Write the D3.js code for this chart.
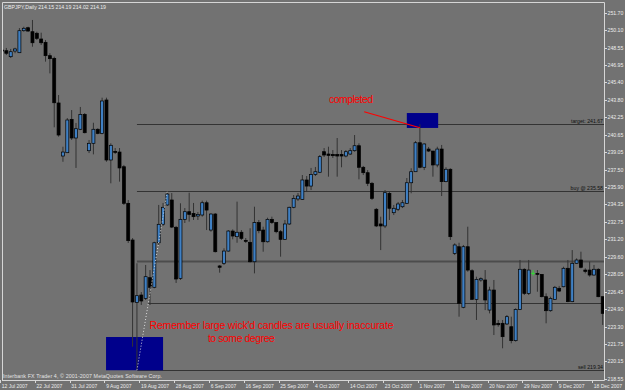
<!DOCTYPE html>
<html>
<head>
<meta charset="utf-8">
<script src="https://d3js.org/d3.v7.min.js"></script>
<style>
  body { margin: 0; background: #727272; }
  svg text { font-family: "Liberation Sans", Arial, sans-serif; }
</style>
</head>
<body>
<div id="chart"></div>
<script>
var figw = 625
var figh = 390

// GBPJPY daily candles, one per trading day from 12 Jul 2007
var barOpen = [248.32,248.26,247.72,248.23,248.08,250.07,250.34,249.98,249.84,249.32,
  249.02,247.81,247.57,243.53,238.73,239.03,242.05,240.36,241.15,242.50,
  239.21,239.88,241.15,240.78,243.80,238.37,239.15,239.09,237.76,234.45,
  231.13,225.48,226.15,225.85,227.72,226.85,230.88,232.55,234.30,234.75,
  232.28,227.66,233.00,233.69,233.54,233.30,233.39,234.50,232.03,233.48,
  228.78,229.02,230.13,231.94,231.43,231.83,231.10,230.92,229.16,232.70,
  232.03,230.97,233.00,232.70,231.88,231.19,232.58,234.09,234.84,234.81,
  236.56,236.01,237.07,237.26,239.12,238.91,238.88,238.88,238.88,238.73,
  238.91,239.21,239.66,237.71,237.22,236.26,233.91,232.58,232.40,235.35,
  233.60,233.91,234.14,234.45,236.31,237.31,239.93,237.71,239.36,239.18,
  237.92,239.36,236.41,237.53,229.92,230.52,225.04,230.52,228.35,225.76,
  227.51,227.51,224.79,226.60,223.59,223.59,223.53,223.28,222.02,224.84,
  228.48,226.30,228.11,228.11,228.02,226.00,224.73,225.76,226.76,226.90,
  228.57,225.55,229.02,229.32,228.41,228.41,227.96,228.48,226.00]
var barHigh = [248.69,248.51,248.42,248.53,250.31,250.43,250.43,251.04,249.98,249.89,
  249.23,248.03,247.72,244.25,239.57,242.17,242.89,241.72,243.17,242.62,
  240.18,241.74,241.24,244.01,244.01,239.88,239.45,239.45,237.92,234.75,
  231.31,229.02,226.42,228.87,228.41,230.97,234.30,234.48,235.47,235.38,
  232.40,234.45,234.02,235.41,234.48,233.66,234.69,234.69,233.55,233.57,
  228.87,230.38,232.03,232.09,234.60,232.03,231.31,232.19,234.14,232.94,
  232.33,233.15,233.24,232.75,232.03,232.94,234.14,235.20,235.38,237.01,
  236.92,237.65,237.74,238.82,239.45,239.57,239.27,240.36,239.27,239.27,
  239.45,240.63,239.88,237.83,237.46,236.38,234.02,233.24,235.65,235.50,
  234.30,234.57,234.75,236.74,237.62,240.09,241.60,239.88,239.55,239.18,
  239.57,239.73,237.71,237.62,230.83,230.88,230.68,232.33,228.48,227.81,
  227.75,228.41,226.90,227.51,223.89,223.89,224.34,224.19,224.95,229.32,
  228.57,229.32,228.41,228.41,228.05,226.30,226.00,226.97,226.97,228.71,
  229.32,230.22,229.47,230.07,228.57,229.17,228.87,228.57,226.00]
var barLow = [247.69,247.87,247.60,248.03,248.05,249.98,249.98,248.62,249.23,248.78,
  247.27,246.21,241.33,240.48,238.21,239.00,240.18,237.65,241.08,240.78,
  239.00,238.88,240.70,240.70,238.21,236.26,238.91,236.41,234.30,230.86,
  221.47,219.34,225.25,225.70,225.25,226.76,230.68,232.40,234.21,232.21,
  227.24,227.51,232.67,232.79,232.94,232.94,233.24,232.03,231.88,230.00,
  228.17,228.87,230.07,231.19,230.88,231.13,230.86,229.10,228.11,231.74,
  230.07,230.90,232.58,231.74,229.62,231.13,232.49,234.00,234.66,234.75,
  235.47,235.65,236.92,237.19,238.64,236.86,238.55,236.86,237.71,238.61,
  238.82,239.12,236.62,237.01,236.01,234.75,232.30,230.22,232.21,232.94,
  233.39,233.75,234.02,234.39,235.36,237.31,237.62,237.46,239.09,236.86,
  237.71,235.11,236.35,231.13,229.77,224.19,224.95,228.26,225.70,223.89,
  227.35,224.79,224.49,222.53,223.28,221.33,223.44,221.78,221.93,224.79,
  226.15,226.15,227.90,226.45,225.94,223.59,224.64,225.70,226.42,226.85,
  225.50,225.50,228.96,228.57,228.11,227.81,227.90,225.95,223.44]
var barClose = [248.23,248.03,248.17,248.42,250.07,250.29,250.04,248.98,249.38,248.98,
  247.81,247.54,243.55,240.63,239.09,241.99,240.36,241.20,242.50,240.84,
  239.88,241.15,240.78,243.71,238.37,239.70,239.10,237.65,234.45,231.07,
  225.52,226.09,225.61,227.81,226.85,230.88,232.55,234.09,235.29,232.30,
  227.60,233.00,233.69,233.45,233.24,233.45,234.50,233.84,233.48,230.07,
  228.66,230.13,231.94,231.49,231.83,231.28,231.05,229.16,232.70,231.97,
  230.97,233.00,232.70,231.88,231.19,232.58,234.09,234.90,235.11,236.56,
  236.01,237.07,237.31,238.67,238.82,238.79,238.76,238.73,238.73,239.12,
  239.21,239.66,237.71,237.22,236.26,234.90,232.40,232.40,235.41,234.00,
  234.00,234.39,234.50,236.31,237.31,239.93,237.71,239.82,239.18,237.92,
  239.36,236.41,237.53,231.43,230.68,225.40,230.52,228.41,225.76,227.57,
  227.63,225.70,226.60,223.44,223.46,222.38,224.19,222.02,224.84,228.48,
  226.30,228.41,228.11,228.02,226.00,224.73,225.85,226.85,226.51,228.57,
  225.55,229.02,229.32,228.66,228.29,227.96,228.48,226.00,224.49]

// date labels, one every 8 bars
var dateLabels = ["12 Jul 2007","22 Jul 2007","31 Jul 2007","9 Aug 2007","19 Aug 2007",
  "28 Aug 2007","6 Sep 2007","16 Sep 2007","25 Sep 2007","4 Oct 2007","14 Oct 2007",
  "23 Oct 2007","1 Nov 2007","11 Nov 2007","20 Nov 2007","29 Nov 2007","9 Dec 2007","18 Dec 2007"]
var dateStep = 8

var priceTicks = ["251.70","250.10","248.55","246.95","245.40","243.80","242.25","240.65",
  "239.05","237.50","235.90","234.35","232.75","231.20","229.60","228.05","226.45",
  "224.90","223.30","221.75","220.15","218.55"]

// horizontal levels drawn on the chart
var levelPrice = [241.67, 235.58, 229.26, 225.40, 219.34]
var levelText = ["target: 241.67", "buy @ 235.58", "", "", "sell  219.34"]
var levelFromBar = [31, 31, 31, 33.6, 31]

// blue boxes: [bar from, bar to, price top, price bottom]
var boxBarFrom = [23.9, 93.0]
var boxBarTo = [37.0, 100.2]
var boxTop = [222.35, 242.62]
var boxBottom = [219.34, 241.27]

var title = "GBPJPY,Daily  214.15 214.19 214.02 214.19"
var copyright = "Interbank FX Trader 4, \u00a9 2001-2007 MetaQuotes Software Corp."

var plot = {left: 2, top: 2, right: 604, bottom: 380}

var svg = d3.select("#chart")
  .append("svg")
    .attr("width", figw)
    .attr("height", figh)

svg.append("rect")
  .attr("width", figw).attr("height", figh)
  .attr("fill", "#727272")

svg.append("clipPath").attr("id", "clip")
  .append("rect")
    .attr("x", plot.left).attr("y", plot.top)
    .attr("width", plot.right - plot.left).attr("height", plot.bottom - plot.top)

var x = d3.scaleLinear()
  .domain([0, 138])
  .range([2, 602.7])

var y = d3.scaleLinear()
  .domain([218.55, 251.70])
  .range([379, 12.7])

var g = svg.append("g").attr("clip-path", "url(#clip)")

// level lines
levelPrice.forEach(function(p, k) {
  var thick = (levelText[k] === "" && k == 2)
  g.append("line")
    .attr("x1", x(levelFromBar[k])).attr("x2", plot.right)
    .attr("y1", Math.round(y(p)) + 0.5).attr("y2", Math.round(y(p)) + 0.5)
    .attr("stroke", thick ? "#4c4c4c" : "#333")
    .attr("stroke-width", thick ? 2 : 1)
  if (levelText[k] !== "") {
    g.append("text")
      .attr("x", plot.right - 1)
      .attr("y", Math.round(y(p)) - 1)
      .attr("text-anchor", "end")
      .attr("font-size", "5.2px")
      .attr("fill", "#111")
      .text(levelText[k])
  }
})

// blue boxes
boxBarFrom.forEach(function(b, k) {
  g.append("rect")
    .attr("x", x(b)).attr("width", x(boxBarTo[k]) - x(b))
    .attr("y", y(boxTop[k])).attr("height", y(boxBottom[k]) - y(boxTop[k]))
    .attr("fill", "#00008b")
})

var bars = barOpen.map(function(o, i) {
  return {i: i, o: o, h: barHigh[i], l: barLow[i], c: barClose[i]}
})

// wicks
g.append("g")
  .selectAll("line")
  .data(bars)
  .enter()
  .append("line")
    .attr("x1", function(d) { return x(d.i) })
    .attr("x2", function(d) { return x(d.i) })
    .attr("y1", function(d) { return y(d.h) })
    .attr("y2", function(d) { return y(d.l) })
    .attr("stroke", function(d) { return d.o == d.c ? "#33dd33" : "#333" })
    .attr("stroke-width", 1)

// bodies
g.append("g")
  .selectAll("rect")
  .data(bars.filter(function(d) { return d.o != d.c }))
  .enter()
  .append("rect")
    .attr("x", function(d) { return x(d.i) - 1.5 })
    .attr("width", 3)
    .attr("y", function(d) { return y(Math.max(d.o, d.c)) })
    .attr("height", function(d) { return Math.max(1, Math.abs(y(d.o) - y(d.c))) })
    .attr("fill", function(d) { return d.c > d.o ? "#3f80c4" : "#000" })
    .attr("stroke", "#000")
    .attr("stroke-width", 0.7)

// doji: green cross
g.append("g")
  .selectAll("line")
  .data(bars.filter(function(d) { return d.o == d.c }))
  .enter()
  .append("line")
    .attr("x1", function(d) { return x(d.i) - 2 })
    .attr("x2", function(d) { return x(d.i) + 2 })
    .attr("y1", function(d) { return y(d.o) })
    .attr("y2", function(d) { return y(d.o) })
    .attr("stroke", "#33dd33")
    .attr("stroke-width", 1)

// dotted trend line from the low to the buy level
g.append("line")
  .attr("x1", x(31)).attr("y1", y(219.34))
  .attr("x2", x(38)).attr("y2", y(235.58))
  .attr("stroke", "#e8e8e8")
  .attr("stroke-width", 0.9)
  .attr("stroke-dasharray", "1,2")

// red arrow to the target
g.append("line")
  .attr("x1", x(83.2)).attr("y1", y(242.74))
  .attr("x2", x(96)).attr("y2", y(241.29))
  .attr("stroke", "#ff0000")
  .attr("stroke-width", 1.2)

g.append("text")
  .attr("x", x(80.2)).attr("y", y(243.55))
  .attr("text-anchor", "middle")
  .attr("font-size", "10.5px")
  .attr("fill", "#ff0000")
  .attr("textLength", 44)
  .text("completed")

g.append("text")
  .attr("x", x(33.9)).attr("y", y(223.07))
  .attr("font-size", "10.5px")
  .attr("fill", "#ff0000")
  .attr("textLength", 244)
  .text("Remember large wick'd candles are usually inaccurate")

g.append("text")
  .attr("x", x(47.3)).attr("y", y(221.9))
  .attr("font-size", "10.5px")
  .attr("fill", "#ff0000")
  .attr("textLength", 67)
  .text("to some degree")

// frame
svg.append("path")
  .attr("d", "M" + (plot.left + 0.5) + "," + plot.bottom + "V" + (plot.top + 0.5) +
             "H" + (plot.right + 0.5) + "V" + (plot.bottom + 0.5) + "H" + plot.left)
  .attr("fill", "none")
  .attr("stroke", "#d6d6d6")
  .attr("stroke-width", 1)

// price axis
var yax = svg.append("g")
yax.selectAll("line")
  .data(priceTicks)
  .enter()
  .append("line")
    .attr("x1", plot.right).attr("x2", plot.right + 3)
    .attr("y1", function(d) { return Math.round(y(+d)) + 0.5 })
    .attr("y2", function(d) { return Math.round(y(+d)) + 0.5 })
    .attr("stroke", "#d8d8d8")
yax.selectAll("text")
  .data(priceTicks)
  .enter()
  .append("text")
    .attr("x", plot.right + 3.5)
    .attr("y", function(d) { return y(+d) + 2 })
    .attr("font-size", "5.2px")
    .attr("fill", "#ececec")
    .text(function(d) { return d })

// date axis
var xax = svg.append("g")
xax.selectAll("line")
  .data(dateLabels)
  .enter()
  .append("line")
    .attr("x1", function(d, k) { return Math.round(x(k * dateStep)) - 1.5 })
    .attr("x2", function(d, k) { return Math.round(x(k * dateStep)) - 1.5 })
    .attr("y1", plot.bottom).attr("y2", plot.bottom + 3)
    .attr("stroke", "#d8d8d8")
xax.selectAll("text")
  .data(dateLabels)
  .enter()
  .append("text")
    .attr("x", function(d, k) { return x(k * dateStep) - 0.3 })
    .attr("y", 388)
    .attr("font-size", "5px")
    .attr("fill", "#ececec")
    .text(function(d) { return d })

svg.append("text")
  .attr("x", 4).attr("y", 8.5)
  .attr("font-size", "5.2px")
  .attr("fill", "#ececec")
  .attr("textLength", 102)
  .text(title)

svg.append("text")
  .attr("x", 3).attr("y", 377.5)
  .attr("font-size", "5.3px")
  .attr("fill", "#e4e4e4")
  .attr("textLength", 159)
  .text(copyright)
</script>
</body>
</html>
